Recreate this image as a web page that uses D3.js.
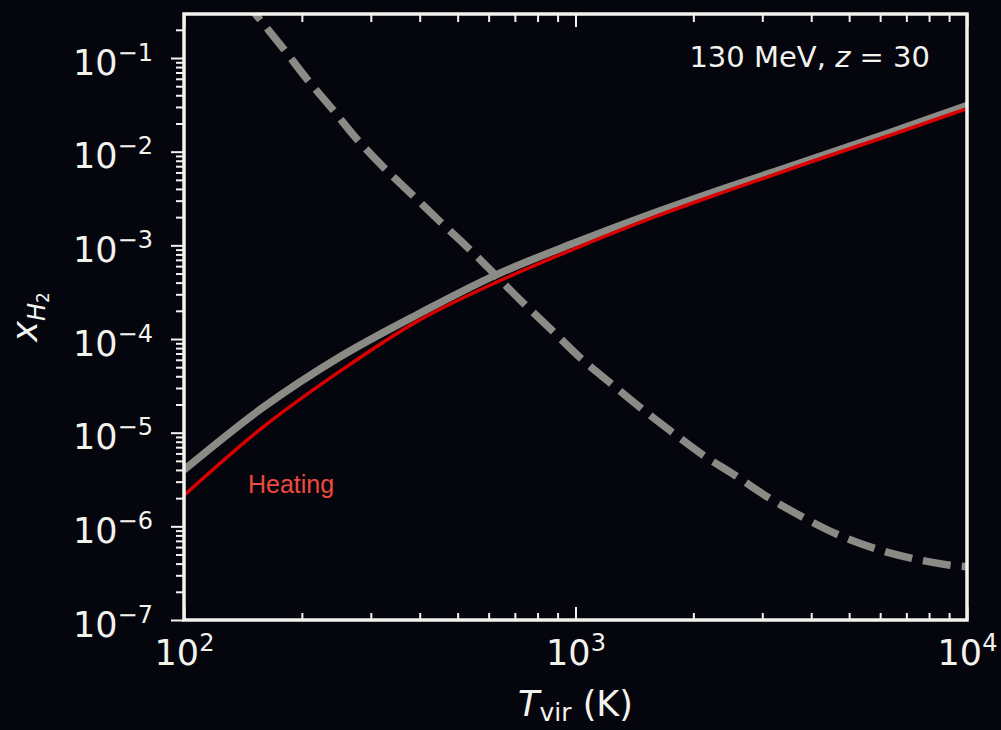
<!DOCTYPE html>
<html>
<head>
<meta charset="utf-8">
<title>x_H2 vs T_vir</title>
<script src="https://d3js.org/d3.v7.min.js"></script>
<style>
  body { margin: 0; background: #05050e; }
  svg { display: block; }
</style>
</head>
<body>
<div id="chart"></div>
<script>
// ---- DATA ----
// solid grey curve
const greyT = [100, 158, 251, 398, 631, 1000, 1585, 2512, 3981, 6310, 10000];
const greyX = [4.0e-6, 1.82e-5, 6.5e-5, 1.86e-4, 4.9e-4, 1.07e-3, 2.21e-3, 4.32e-3, 8.22e-3, 1.585e-2, 3.1e-2];
// red "Heating" curve
const heatT = [100, 158, 251, 398, 631, 1000, 1585, 2512, 3981, 6310, 10000];
const heatX = [2.14e-6, 1.12e-5, 4.57e-5, 1.58e-4, 4.07e-4, 9.3e-4, 2.0e-3, 3.98e-3, 7.76e-3, 1.48e-2, 2.88e-2];
// dashed grey curve
const dashT = [141, 159, 179, 206, 239, 276, 324, 382, 453, 533, 625, 736, 869, 1030, 1227, 1466,
               1758, 2109, 2559, 3105, 3776, 4656, 5754, 7194, 9057, 10000];
const dashX = [0.437, 0.2355, 0.1276, 0.0598, 0.02864, 0.01374, 6.76e-3, 3.49e-3, 1.758e-3, 9.29e-4,
               4.80e-4, 2.415e-4, 1.247e-4, 6.28e-5, 3.40e-5, 1.845e-5, 1.026e-5, 5.83e-6, 3.49e-6,
               2.04e-6, 1.276e-6, 8.22e-7, 5.89e-7, 4.57e-7, 3.85e-7, 3.72e-7];
const xMajor = [1e2, 1e3, 1e4];
const yMajor = [1e-7, 1e-6, 1e-5, 1e-4, 1e-3, 1e-2, 1e-1];
const annotation = "130 MeV, ";

// ---- LAYOUT ----
const W = 1001, H = 730;
const pLeft = 184, pRight = 967, pTop = 14, pBottom = 620;
const fg = "#f3f3ee";

const svg = d3.select("#chart").append("svg")
  .attr("width", W).attr("height", H);

svg.append("rect").attr("width", W).attr("height", H).attr("fill", "#05050e");

const x = d3.scaleLog().domain([100, 1e4]).range([pLeft, pRight]);
const y = d3.scaleLog().domain([1e-7, 0.295]).range([pBottom, pTop]);

// minor tick values
const xMinor = [];
for (let d = 100; d < 1e4; d *= 10) for (let k = 2; k <= 9; k++) xMinor.push(d * k);
const yMinor = [];
for (let d = 1e-7; d < 1; d *= 10) for (let k = 2; k <= 9; k++) if (d * k <= 0.295) yMinor.push(d * k);

// ---- CURVES ----
svg.append("clipPath").attr("id", "clip")
  .append("rect").attr("x", pLeft).attr("y", pTop)
  .attr("width", pRight - pLeft).attr("height", pBottom - pTop);

const line = d3.line()
  .x(d => x(d[0])).y(d => y(d[1]))
  .curve(d3.curveCatmullRom.alpha(0.5));

const plot = svg.append("g").attr("clip-path", "url(#clip)");

plot.append("path")
  .datum(dashT.map((t, i) => [t, dashX[i]]))
  .attr("d", line)
  .attr("fill", "none").attr("stroke", "#8b8b86")
  .attr("stroke-width", 7.5).attr("stroke-dasharray", "28,11");

plot.append("path")
  .datum(greyT.map((t, i) => [t, greyX[i]]))
  .attr("d", line)
  .attr("fill", "none").attr("stroke", "#8b8b86")
  .attr("stroke-width", 7.5);

plot.append("path")
  .datum(heatT.map((t, i) => [t, heatX[i]]))
  .attr("d", line)
  .attr("fill", "none").attr("stroke", "#d80000")
  .attr("stroke-width", 3.5);

// ---- AXES ----
function styleTicks(g) {
  g.select(".domain").remove();
  g.selectAll("line").attr("stroke", fg).attr("stroke-width", 2);
}

// y axis: ticks outward
svg.append("g").attr("transform", `translate(${pLeft},0)`)
  .call(d3.axisLeft(y).tickValues(yMinor).tickSize(8).tickFormat(""))
  .call(styleTicks);
const yAx = svg.append("g").attr("transform", `translate(${pLeft},0)`)
  .call(d3.axisLeft(y).tickValues(yMajor).tickSize(13).tickPadding(18).tickFormat(""))
  .call(styleTicks);
yAx.selectAll(".tick text").each(function(d) {
  const t = d3.select(this).attr("dy", null).attr("y", 16)
    .attr("fill", fg).attr("font-family", "DejaVu Sans").attr("font-size", 35);
  t.append("tspan").text("10");
  t.append("tspan").attr("dy", -14).attr("font-size", 24).text("\u2212" + Math.round(-Math.log10(d)));
});

// x axis: ticks inward (bottom + top)
svg.append("g").attr("transform", `translate(0,${pBottom})`)
  .call(d3.axisBottom(x).tickValues(xMinor).tickSize(-7).tickFormat(""))
  .call(styleTicks);
const xAx = svg.append("g").attr("transform", `translate(0,${pBottom})`)
  .call(d3.axisBottom(x).tickValues(xMajor).tickSize(-13).tickFormat(""))
  .call(styleTicks);
xAx.selectAll(".tick text").each(function(d) {
  const t = d3.select(this).attr("dy", null).attr("y", 45)
    .attr("fill", fg).attr("font-family", "DejaVu Sans").attr("font-size", 35)
    .attr("text-anchor", "middle");
  t.append("tspan").text("10");
  t.append("tspan").attr("dy", -14).attr("font-size", 24).text(Math.round(Math.log10(d)));
});
svg.append("g").attr("transform", `translate(0,${pTop})`)
  .call(d3.axisTop(x).tickValues(xMinor).tickSize(-8).tickFormat(""))
  .call(styleTicks);
svg.append("g").attr("transform", `translate(0,${pTop})`)
  .call(d3.axisTop(x).tickValues(xMajor).tickSize(-13).tickFormat(""))
  .call(styleTicks);

// frame
svg.append("rect")
  .attr("x", pLeft).attr("y", pTop)
  .attr("width", pRight - pLeft).attr("height", pBottom - pTop)
  .attr("fill", "none").attr("stroke", fg).attr("stroke-width", 3.5);

// ---- LABELS ----
const xl = svg.append("text")
  .attr("x", (pLeft + pRight) / 2).attr("y", 716)
  .attr("text-anchor", "middle").attr("fill", fg)
  .attr("font-family", "DejaVu Sans").attr("font-size", 35);
xl.append("tspan").attr("font-style", "italic").text("T");
xl.append("tspan").attr("dy", 5).attr("font-size", 25).text("vir");
xl.append("tspan").attr("dy", -5).text(" (K)");

const yl = svg.append("text")
  .attr("transform", `translate(37,${(pTop + pBottom) / 2}) rotate(-90)`)
  .attr("text-anchor", "middle").attr("fill", fg)
  .attr("font-family", "DejaVu Sans").attr("font-size", 35);
yl.append("tspan").attr("font-style", "italic").text("x");
yl.append("tspan").attr("dy", 8).attr("font-size", 24).attr("font-style", "italic").text("H");
yl.append("tspan").attr("dy", 4).attr("font-size", 17).text("2");

const ann = svg.append("text")
  .attr("x", 930).attr("y", 67)
  .attr("text-anchor", "end").attr("fill", fg)
  .attr("font-family", "DejaVu Sans").attr("font-size", 29);
ann.append("tspan").text(annotation);
ann.append("tspan").attr("font-style", "italic").text("z");
ann.append("tspan").text(" = 30");

svg.append("text")
  .attr("x", 248).attr("y", 493)
  .attr("fill", "#ee4a3e")
  .attr("font-family", "Liberation Sans, Arial, sans-serif").attr("font-size", 25)
  .text("Heating");
</script>
</body>
</html>
